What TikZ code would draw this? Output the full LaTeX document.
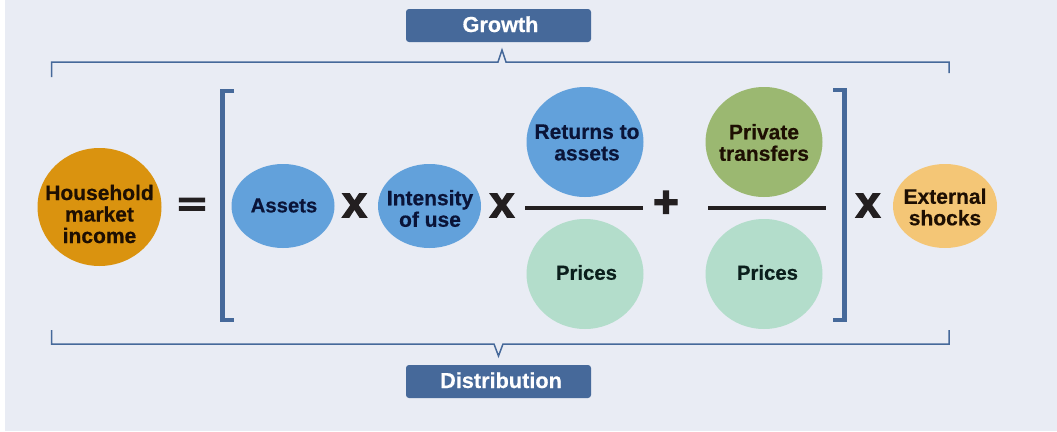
\documentclass[tikz,border=0pt]{standalone}
\usepackage{fontspec}
\usetikzlibrary{shapes.geometric}
\setmainfont{Liberation Sans}[BoldFeatures={FakeBold=0.5}]
\newfontfamily\heavyf[FakeBold=3]{Liberation Sans Bold}
\newfontfamily\eqf[FakeBold=4]{Liberation Sans Bold}
\definecolor{bgc}{HTML}{E9ECF4}
\definecolor{blu}{HTML}{46699A}
\definecolor{skyc}{HTML}{62A1DB}
\definecolor{mint}{HTML}{B3DDCB}
\definecolor{grn}{HTML}{9BB871}
\definecolor{org}{HTML}{DA930F}
\definecolor{yel}{HTML}{F4C676}
\definecolor{ink}{HTML}{231F20}
\definecolor{txt}{HTML}{0A1438}
\definecolor{txtb}{HTML}{1E0F02}
\definecolor{txtg}{HTML}{0B1F1C}
\begin{document}
\begin{tikzpicture}[x=1pt,y=-1pt,
  blob/.style 2 args={ellipse,minimum width=#1,minimum height=#2,inner sep=0pt},
  small/.style={blob={103pt}{84pt},fill=skyc},
  big/.style={blob={117pt}{110pt}},
  lbl/.style={inner sep=0pt,align=center,text=txt,font=\bfseries\fontsize{21}{21.5}\selectfont},
  lbls/.style={lbl,font=\bfseries\fontsize{20.3}{21.5}\selectfont},
  tag/.style={fill=blu,rounded corners=3pt,text=white,font=\bfseries\fontsize{21.7}{24}\selectfont,minimum width=185pt,minimum height=33pt,inner sep=0pt,text height=15pt,text depth=2pt},
  brk/.style={draw=blu,line width=1.5pt},
  bigb/.style={draw=blu,line width=4.2pt},
  rule/.style={draw=ink,line width=4.6pt},
  op/.style={font=\heavyf\fontsize{44}{44}\selectfont,text=ink,inner sep=0pt}]
\useasboundingbox (0,0) rectangle (1057,431);
\fill[white] (0,0) rectangle (1057,431);
\fill[bgc] (5,0) rectangle (1057,431);
% tags
\node[tag] (growth) at (498.5,25.5) {\hspace*{4pt}Growth};
\node[tag] (distribution) at (498.5,381.5) {\hspace*{5pt}Distribution};
% long braces
\draw[brk] (51.5,77) -- (51.5,62) -- (498,62) -- (502,50) -- (506,62) -- (949,62) -- (949,73);
\draw[brk] (51.5,330) -- (51.5,344) -- (494,344) -- (498.5,356) -- (503,344) -- (949,344) -- (949,330);
% square brackets
\draw[bigb] (234,91) -- (222.5,91) -- (222.5,320) -- (234,320);
\draw[bigb] (833,90) -- (844.5,90) -- (844.5,320) -- (833,320);
% ellipses
\node[blob={124pt}{118pt},fill=org] (income) at (99.5,207) {};
\node[small] (assets) at (283,206) {};
\node[small] (intensity) at (429.5,206) {};
\node[big,fill=skyc] (returns) at (585,142) {};
\node[big,fill=mint] (prices1) at (585,274) {};
\node[big,fill=grn] (transfers) at (764,142) {};
\node[big,fill=mint] (prices2) at (764,274) {};
\node[blob={104pt}{84pt},fill=yel] (shocks) at (945,206) {};
% labels
\node[lbl,text=txtb] (incomeT) at (99.5,214) {Household\\market\\income};
\node[lbls] (assetsT) at (284,205.5) {Assets};
\node[lbl] (intensityT) at (430,208.5) {Intensity\\of use};
\node[lbl] (returnsT) at (587,142.5) {Returns to\\assets};
\node[lbls,text=txtg] (prices1T) at (586.5,272.5) {Prices};
\node[lbl,text=txtb] (transfersT) at (764,142.5) {Private\\transfers};
\node[lbls,text=txtg] (prices2T) at (767.5,272.5) {Prices};
\node[lbl,text=txtb] (shocksT) at (945,207) {External\\shocks};
% fraction bars
\draw[rule] (525,208) -- (643,208);
\draw[rule] (708,208) -- (826,208);
% operators
\node[op,font=\eqf\fontsize{44}{44}\selectfont] (eq) at (192,206.5) {\scalebox{1.1}[0.72]{=}};
\node[op] (x1) at (354.5,205.5) {x};
\node[op] (x2) at (502,205.5) {x};
\node[op] (plus) at (666,204) {+};
\node[op] (x3) at (868,205.5) {x};
\end{tikzpicture}
\end{document}
